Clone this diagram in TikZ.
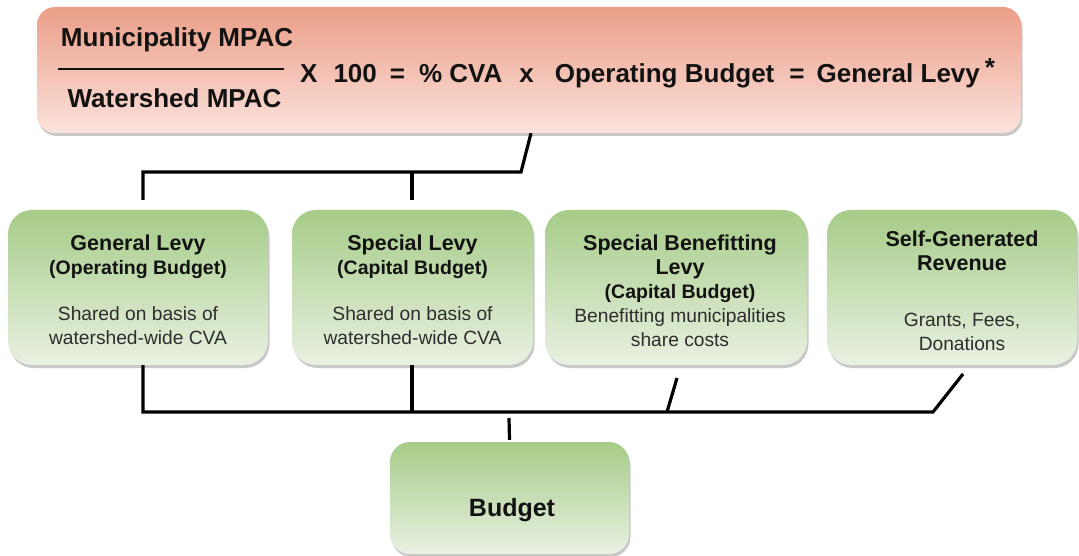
\documentclass[tikz,border=0pt]{standalone}
\usepackage{fontspec}
\setmainfont{Liberation Sans}
\usetikzlibrary{shadows,calc}
\definecolor{salmonT}{RGB}{235,158,136}
\definecolor{salmonB}{RGB}{251,226,219}
\definecolor{greenT}{RGB}{166,204,136}
\definecolor{greenB}{RGB}{233,241,226}
\definecolor{inkc}{RGB}{18,18,18}
\definecolor{bodyc}{RGB}{45,45,45}
\newcommand\BoxTitle{\fontsize{21.5}{24}\selectfont\bfseries\color{inkc}}
\newcommand\BoxSub{\fontsize{19.5}{24}\selectfont\bfseries\color{inkc}}
\begin{document}
\begin{tikzpicture}[x=1pt,y=-1pt,
  shadowed/.style={drop shadow={shadow xshift=1.5pt,shadow yshift=-3pt,opacity=0.3,fill=black!70}},
  pbox/.style={rectangle,rounded corners=18pt,top color=salmonT,bottom color=salmonB,draw=none,inner sep=0pt,shadowed},
  gbox/.style={rectangle,rounded corners=24pt,top color=greenT,bottom color=greenB,draw=none,inner sep=0pt,shadowed},
  btxt/.style={align=center,inner sep=0pt,font=\fontsize{19.2}{24}\selectfont,text=bodyc},
  ftxt/.style={inner sep=0pt,font=\fontsize{26}{30}\selectfont\bfseries,text=inkc},
  conn/.style={line width=3.2pt,black}]
\useasboundingbox (0,0) rectangle (1079,556);
\fill[white] (0,0) rectangle (1079,556);

% top formula box
\node[pbox,minimum width=984pt,minimum height=126pt] (top) at (529,70) {};
\node[ftxt,anchor=base] (num) at (177,47) {Municipality MPAC};
\node[ftxt,anchor=base] (den) at (174.5,108) {Watershed MPAC};
\coordinate (fl) at (58,69);
\coordinate (fr) at (284,69);
\draw[line width=1.3pt,inkc] (fl) -- (fr);
\node[ftxt,anchor=base west] (formula) at (300,83)
 {X\hspace{16pt}100\hspace{13pt}=\hspace{14pt}\% CVA\hspace{17pt}x\hspace{21pt}Operating Budget\hspace{15pt}=\hspace{12pt}General Levy\hspace{5pt}\raisebox{6pt}{*}};

% middle boxes
\node[gbox,minimum width=260pt,minimum height=155pt] (b1) at (138,287.5) {};
\node[gbox,minimum width=241pt,minimum height=155pt] (b2) at (412.5,287.5) {};
\node[gbox,minimum width=262pt,minimum height=155pt] (b3) at (676,287.5) {};
\node[gbox,minimum width=250pt,minimum height=155pt] (b4) at (952,287.5) {};

\node[btxt,anchor=north] (b1t) at (138,234.3)
 {{\BoxTitle General Levy}\\{\BoxSub (Operating Budget)}\\[22pt]Shared on basis of\\watershed-wide CVA};
\node[btxt,anchor=north] (b2t) at (412.5,234.3)
 {{\BoxTitle Special Levy}\\{\BoxSub (Capital Budget)}\\[22pt]Shared on basis of\\watershed-wide CVA};
\node[btxt,anchor=north] (b3t) at (680,234.3)
 {{\BoxTitle Special Benefitting}\\{\BoxTitle Levy}\\{\BoxSub (Capital Budget)}\\Benefitting municipalities\\share costs};
\node[btxt,anchor=north] (b4t) at (962,230.3)
 {{\BoxTitle Self-Generated}\\{\BoxTitle Revenue}\\[32pt]Grants, Fees,\\Donations};

% budget box
\node[gbox,rounded corners=20pt,minimum width=239pt,minimum height=112pt] (budget) at (509.5,498) {};
\node[ftxt,font=\fontsize{25}{30}\selectfont\bfseries] (budgett) at (512,510) {Budget};

% top connectors
\coordinate (t0) at ([xshift=2pt]top.south);
\coordinate (j1) at (521,172);
\coordinate (j2) at (143,172);
\coordinate (d1) at (143,200);
\coordinate (j3) at (412,172);
\coordinate (d2) at (412,200);
\draw[conn] (t0) -- (j1) -- (j2) -- (d1);
\draw[conn] (j3) -- (d2);

% bottom connectors
\coordinate (u1) at ([xshift=5pt]b1.south);
\coordinate (h1) at (143,412);
\coordinate (u2) at (412,365);
\coordinate (h2) at (412,412);
\coordinate (u3) at (677,378);
\coordinate (h3) at (667,412);
\coordinate (u4) at (963,374);
\coordinate (h4) at (933,412);
\draw[conn] (u1) -- (h1) -- (h4) -- (u4);
\draw[conn] (u2) -- (h2);
\draw[conn] (u3) -- (h3);
\coordinate (v1) at (509,418);
\coordinate (v2) at ([yshift=2pt]budget.north);
\draw[conn] (v1) -- (v2);
\end{tikzpicture}
\end{document}
